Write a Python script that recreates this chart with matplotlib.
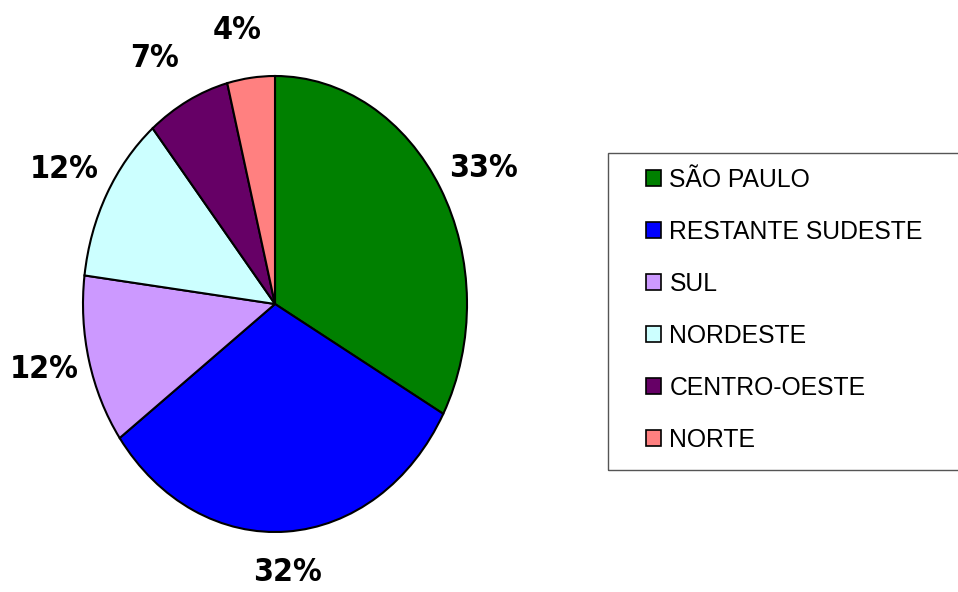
import matplotlib
matplotlib.use("Agg")
import numpy as np
import matplotlib.pyplot as plt
from matplotlib.patches import Patch, Rectangle

# regiões e participação (%)
regioes = ["SÃO PAULO", "RESTANTE SUDESTE", "SUL", "NORDESTE", "CENTRO-OESTE", "NORTE"]
valores = [33, 32, 12, 12, 7, 4]
cores = ["#008000", "#0000FF", "#CC99FF", "#CCFFFF", "#660066", "#FF8080"]

# afastamento dos rótulos (em raios), como o Excel posicionou
afast_x = [1.26, 1.0, 1.24, 1.25, 1.38, 1.58]
afast_y = [1.17, 1.18, 1.15, 1.22, 1.21, 1.21]

plt.rcParams["font.family"] = ["Liberation Sans", "DejaVu Sans"]

fig = plt.figure(figsize=(9.58, 5.92), dpi=100)
# eixo esticado para a pizza ficar elíptica como no original
ax = fig.add_axes([83 / 958, 60 / 592, 384 / 958, 456 / 592])

wedges, textos, pcts = ax.pie(
    valores, colors=cores, startangle=90, counterclock=False,
    autopct="%1.0f%%", pctdistance=1.2,
    wedgeprops=dict(edgecolor="black", linewidth=1.5),
)
for w, t, fx, fy in zip(wedges, pcts, afast_x, afast_y):
    ang = np.deg2rad((w.theta1 + w.theta2) / 2)
    t.set_position((fx * np.cos(ang), fy * np.sin(ang)))
    t.set_fontfamily("DejaVu Sans")
    t.set_fontstretch("condensed")
    t.set_fontweight("bold")
    t.set_fontsize(23)
    t.set_color("black")
ax.set_aspect("auto")
ax.set_xlim(-1, 1)
ax.set_ylim(-1, 1)

# moldura da legenda (vai até a borda direita)
fig.patches.append(Rectangle((608 / 958, 1 - 470 / 592), 400 / 958, 317 / 592,
                             transform=fig.transFigure, facecolor="none",
                             edgecolor="#555555", linewidth=1.0))

handles = [Patch(facecolor=c, edgecolor="black", linewidth=1.2) for c in cores]
leg = fig.legend(handles, regioes, loc="upper left",
                 bbox_to_anchor=(646 / 958, 1 - 168 / 592),
                 fontsize=17.8, frameon=False,
                 handlelength=0.6, handleheight=0.6, handletextpad=0.35,
                 labelspacing=1.13, borderpad=0, borderaxespad=0)

fig.savefig("out.png", dpi=100)
